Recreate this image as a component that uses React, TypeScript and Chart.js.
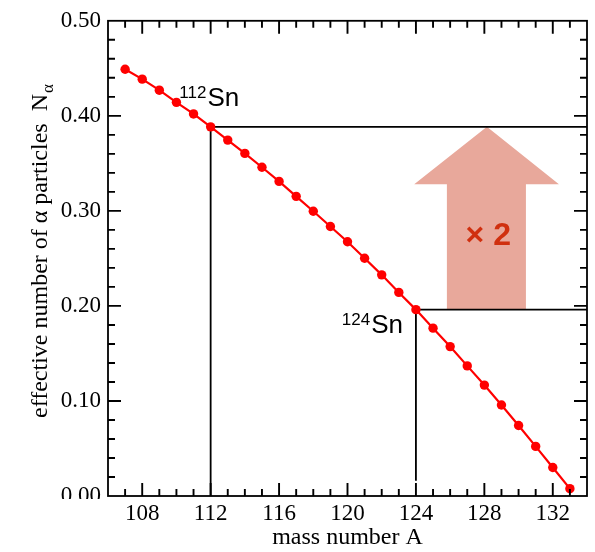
import React, { useEffect, useRef } from 'react';
import { Chart, registerables } from 'chart.js';

Chart.register(...registerables);

// ---- data ----
const massNumbers = [107, 108, 109, 110, 111, 112, 113, 114, 115, 116, 117, 118, 119, 120, 121, 122, 123, 124, 125, 126, 127, 128, 129, 130, 131, 132, 133];
const nAlpha = [0.449, 0.4386, 0.427, 0.4142, 0.402, 0.3884, 0.3745, 0.3605, 0.3459, 0.331, 0.3153, 0.2996, 0.2836, 0.2675, 0.2502, 0.2327, 0.2142, 0.1961, 0.1766, 0.1572, 0.1369, 0.1167, 0.0958, 0.0742, 0.0522, 0.030, 0.0077];

const xTicks = [108, 112, 116, 120, 124, 128, 132];
const yTicks = [0, 0.1, 0.2, 0.3, 0.4, 0.5];
const xMinorStep = 1;
const yMinorStep = 0.02;

// guide lines (data units)
const guide112X = [112, 112, 134];
const guide112Y = [0, 0.3884, 0.3884];
const guide124X = [124, 124, 134];
const guide124Y = [0.016, 0.1961, 0.1961];

// arrow polygon (data units)
const arrowX = [125.81, 125.81, 123.9, 128.15, 132.36, 130.43, 130.43];
const arrowY = [0.1961, 0.328, 0.328, 0.3884, 0.328, 0.328, 0.1961];
const factorText = '× 2';
const factorX = [128.23];
const factorY = [0.2644];

// isotope labels
const isoMass = ['112', '124'];
const isoX = [110.17, 119.67];
const isoY = [0.41, 0.172];

const SERIF = '"Liberation Serif", "Times New Roman", serif';
const SANS = '"Liberation Sans", Arial, sans-serif';

const decorPlugin = {
  id: 'decor',
  beforeDatasetsDraw(chart: any) {
    const { ctx, scales } = chart;
    const x = scales.x, y = scales.y;
    ctx.save();
    ctx.fillStyle = '#E8A89B';
    ctx.beginPath();
    arrowX.forEach((v, i) => {
      const px = x.getPixelForValue(v);
      const py = y.getPixelForValue(arrowY[i]);
      if (i === 0) ctx.moveTo(px, py); else ctx.lineTo(px, py);
    });
    ctx.closePath();
    ctx.fill();
    ctx.fillStyle = '#D0300F';
    ctx.font = 'bold 32px ' + SANS;
    ctx.textAlign = 'center';
    ctx.textBaseline = 'alphabetic';
    ctx.fillText(factorText, x.getPixelForValue(factorX[0]), y.getPixelForValue(factorY[0]));
    ctx.restore();
  },
  afterDraw(chart: any) {
    const { ctx, chartArea, scales } = chart;
    const x = scales.x, y = scales.y;
    const { left, right, top, bottom } = chartArea;
    ctx.save();
    // clip the 0.00 label like the reference
    ctx.fillStyle = '#fff';
    ctx.fillRect(55, bottom + 3, left - 56, 14);

    ctx.strokeStyle = '#000';
    ctx.lineWidth = 1.8;
    ctx.strokeRect(left, top, right - left, bottom - top);
    ctx.lineWidth = 1.9;
    ctx.beginPath();
    const xMin = x.min, xMax = x.max, yMin = y.min, yMax = y.max;
    for (let v = Math.ceil(xMin); v <= xMax; v += xMinorStep) {
      if (v <= xMin || v >= xMax) continue;
      const major = xTicks.includes(v);
      const len = major ? 13 : 7;
      const px = x.getPixelForValue(v);
      ctx.moveTo(px, bottom); ctx.lineTo(px, bottom - len);
      ctx.moveTo(px, top); ctx.lineTo(px, top + len);
    }
    const nMinor = Math.round((yMax - yMin) / yMinorStep);
    for (let k = 1; k < nMinor; k++) {
      const v = yMin + k * yMinorStep;
      const major = Math.abs(v * 10 - Math.round(v * 10)) < 1e-6;
      const len = major ? 13 : 7;
      const py = y.getPixelForValue(v);
      ctx.moveTo(left, py); ctx.lineTo(left + len, py);
      ctx.moveTo(right, py); ctx.lineTo(right - len, py);
    }
    ctx.stroke();

    // isotope labels
    ctx.fillStyle = '#000';
    ctx.textAlign = 'left';
    ctx.textBaseline = 'alphabetic';
    isoMass.forEach((m, i) => {
      const px = x.getPixelForValue(isoX[i]);
      const py = y.getPixelForValue(isoY[i]);
      ctx.font = '17px ' + SANS;
      ctx.fillText(m, px, py - 8);
      const w = ctx.measureText(m).width;
      ctx.font = '26px ' + SANS;
      ctx.fillText('Sn', px + w + 1, py);
    });

    // y axis title with subscript
    ctx.translate(47, 418);
    ctx.rotate(-Math.PI / 2);
    ctx.font = '24px ' + SERIF;
    const main = 'effective number of α particles  N';
    ctx.fillText(main, 0, 0);
    const mw = ctx.measureText(main).width;
    ctx.font = '17px ' + SERIF;
    ctx.fillText('α', mw + 1, 6);
    ctx.restore();
  },
};

export default function App() {
  const ref = useRef<HTMLCanvasElement | null>(null);
  useEffect(() => {
    if (!ref.current) return;
    const chart = new Chart(ref.current, {
      type: 'line',
      data: {
        datasets: [
          {
            data: massNumbers.map((m, i) => ({ x: m, y: nAlpha[i] })),
            borderColor: '#FF0000',
            backgroundColor: '#FF0000',
            borderWidth: 2.2,
            pointRadius: 4.7,
            pointBorderWidth: 0,
            pointBackgroundColor: '#FF0000',
            tension: 0,
          },
          {
            data: guide112X.map((v, i) => ({ x: v, y: guide112Y[i] })),
            borderColor: '#000',
            borderWidth: 1.8,
            pointRadius: 0,
            tension: 0,
          },
          {
            data: guide124X.map((v, i) => ({ x: v, y: guide124Y[i] })),
            borderColor: '#000',
            borderWidth: 1.8,
            pointRadius: 0,
            tension: 0,
          },
        ],
      },
      options: {
        animation: false,
        responsive: false,
        events: [],
        layout: { padding: { top: 17, right: 8, left: 0, bottom: 0 } },
        plugins: { legend: { display: false }, tooltip: { enabled: false }, title: { display: false } },
        scales: {
          x: {
            type: 'linear',
            min: 106,
            max: 134,
            grid: { display: false, drawTicks: false },
            border: { display: false },
            afterBuildTicks: (s: any) => { s.ticks = xTicks.map((v) => ({ value: v })); },
            afterFit: (s: any) => { s.height = 56; },
            ticks: {
              color: '#000',
              font: { family: SERIF, size: 23 },
              padding: 4,
              maxRotation: 0,
              autoSkip: false,
              callback: (v: any) => String(v),
            },
            title: {
              display: true,
              text: 'mass number A',
              color: '#000',
              font: { family: SERIF, size: 24 },
              padding: { top: 0, bottom: 0 },
            },
          },
          y: {
            type: 'linear',
            min: 0,
            max: 0.5,
            grid: { display: false, drawTicks: false },
            border: { display: false },
            afterBuildTicks: (s: any) => { s.ticks = yTicks.map((v) => ({ value: v })); },
            afterFit: (s: any) => { s.width = 108; },
            ticks: {
              color: '#000',
              font: { family: SERIF, size: 23 },
              padding: 7,
              autoSkip: false,
              callback: (v: any) => Number(v).toFixed(2),
            },
          },
        },
      },
      plugins: [decorPlugin],
    } as any);
    return () => chart.destroy();
  }, []);
  return (
    <div style={{ position: 'absolute', left: 0, top: 0, width: 595, height: 552 }}>
      <canvas ref={ref} width={595} height={552} style={{ display: 'block' }} />
    </div>
  );
}
